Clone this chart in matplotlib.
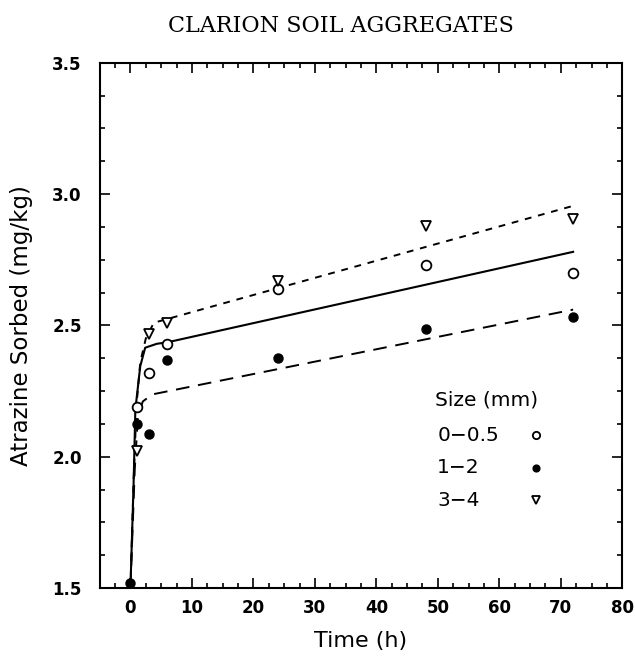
import matplotlib
matplotlib.use("Agg")
import matplotlib.pyplot as plt
from matplotlib.ticker import MultipleLocator, FormatStrFormatter

# measured points
t_fine = [1, 3, 6, 24, 48, 72]
y_fine = [2.19, 2.32, 2.43, 2.64, 2.73, 2.70]
t_mid = [0, 1, 3, 6, 24, 48, 72]
y_mid = [1.52, 2.126, 2.085, 2.37, 2.374, 2.485, 2.53]
t_coarse = [1, 3, 6, 24, 48, 72]
y_coarse = [2.02, 2.466, 2.51, 2.668, 2.88, 2.905]

# fitted curves
fit_t_fine = [0, 0.5, 0.8, 1.6, 2.4, 4.3, 5.9, 72]
fit_y_fine = [1.5, 1.885, 2.18, 2.345, 2.415, 2.43, 2.435, 2.78]
fit_t_coarse = [0, 0.5, 1.0, 1.6, 2.5, 3.8, 72]
fit_y_coarse = [1.5, 1.9, 2.2, 2.36, 2.45, 2.51, 2.955]
fit_t_mid = [0, 0.7, 1.2, 2.0, 3.5, 72]
fit_y_mid = [1.5, 1.95, 2.15, 2.21, 2.237, 2.56]

legend_labels = ["0\u22120.5", "1\u22122", "3\u22124"]

fig = plt.figure(figsize=(6.35, 6.6), dpi=100)
ax = fig.add_axes([0.157, 0.109, 0.823, 0.796])

ax.plot(fit_t_fine, fit_y_fine, color="black", lw=1.5)
ax.plot(fit_t_coarse, fit_y_coarse, color="black", lw=1.4, linestyle=(0, (3.5, 3.5)))
ax.plot(fit_t_mid, fit_y_mid, color="black", lw=1.4, linestyle=(0, (7, 4.5)))

open_c = dict(marker="o", ms=7, mfc="white", mec="black", mew=1.3, ls="none")
fill_c = dict(marker="o", ms=6.5, mfc="black", mec="black", ls="none")
open_t = dict(marker="v", ms=7.5, mfc="white", mec="black", mew=1.3, ls="none")
ax.plot(t_fine, y_fine, **open_c)
ax.plot(t_mid, y_mid, **fill_c)
ax.plot(t_coarse, y_coarse, **open_t)

# hand-made key: labels left aligned, symbols in a column
ax.text(0.642, 0.358, "Size (mm)", transform=ax.transAxes, fontsize=14.5,
        va="center", ha="left")
key_styles = [open_c, fill_c, open_t]
for i, (lab, st) in enumerate(zip(legend_labels, key_styles)):
    yk = 0.291 - i * 0.062
    ax.text(0.646, yk, lab, transform=ax.transAxes, fontsize=14.5,
            va="center", ha="left")
    small = dict(st)
    small["ms"] = st["ms"] * 0.75
    ax.plot([0.835], [yk], transform=ax.transAxes, clip_on=False, **small)

ax.set_xlim(-5, 80)
ax.set_ylim(1.5, 3.5)
ax.xaxis.set_major_locator(MultipleLocator(10))
ax.xaxis.set_minor_locator(MultipleLocator(2.5))
ax.yaxis.set_major_locator(MultipleLocator(0.5))
ax.yaxis.set_minor_locator(MultipleLocator(0.125))
ax.yaxis.set_major_formatter(FormatStrFormatter("%.1f"))

ax.tick_params(which="both", direction="in", top=True, right=True, width=1.2)
ax.tick_params(which="major", length=7)
ax.tick_params(which="minor", length=3.5)
ax.tick_params(axis="x", pad=8)
ax.tick_params(axis="y", pad=13)
for lab in ax.get_xticklabels() + ax.get_yticklabels():
    lab.set_fontsize(12)
    lab.set_fontweight("bold")
for sp in ax.spines.values():
    sp.set_linewidth(1.5)

ax.set_xlabel("Time (h)", fontsize=16, labelpad=10)
ax.set_ylabel("Atrazine Sorbed (mg/kg)", fontsize=16.5, labelpad=14)

fig.text(0.537, 0.96, "CLARION SOIL AGGREGATES", ha="center", va="center",
         fontsize=16, family="DejaVu Serif")

fig.savefig("out.png", dpi=100)
